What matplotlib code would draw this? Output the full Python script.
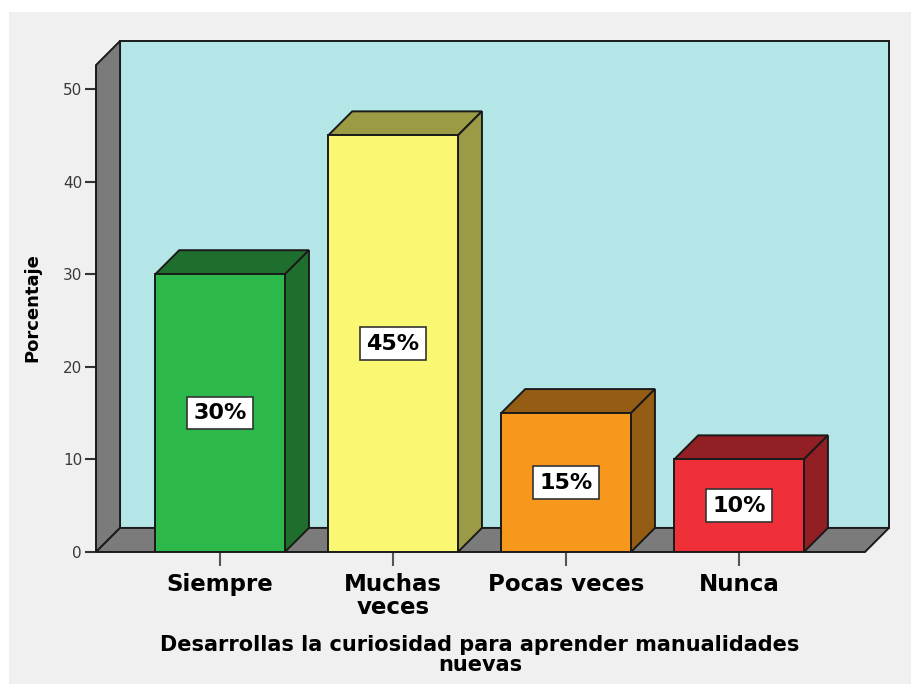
import matplotlib
matplotlib.use("Agg")
import matplotlib.pyplot as plt
from matplotlib.patches import Polygon, Rectangle

# ---- data ----
categories = ["Siempre", "Muchas\nveces", "Pocas veces", "Nunca"]
values = [30, 45, 15, 10]
value_labels = ["30%", "45%", "15%", "10%"]
y_ticks = [0, 10, 20, 30, 40, 50]
x_title = "Desarrollas la curiosidad para aprender manualidades\nnuevas"
y_title = "Porcentaje"

# ---- style ----
front_colors = ["#2DB84B", "#FAF773", "#F7981D", "#EF3038"]
dark_colors = ["#1E6E2D", "#9B9A45", "#955D13", "#921F24"]
wall_color = "#B4E6E7"
gray = "#7B7B7B"
edge = "#1A1A1A"
W, H = 912, 684
fig = plt.figure(figsize=(W / 100, H / 100), dpi=100)
fig.patch.set_facecolor("white")
fig.patches.append(Rectangle((9 / W, 0), 1 - 9 / W, 1 - 12 / H, transform=fig.transFigure,
                             facecolor="#F0F0F0", edgecolor="none", zorder=-10))

x0, x1 = -0.717, 3.728      # front floor extent
dx, dy = 0.139, 2.6          # depth offset
ytop = 52.6                  # front top of value axis
bw = 0.75                    # bar width

left_px, right_px, bot_px, top_px = 96, 889, 552, 41
ax = fig.add_axes([left_px / W, 1 - bot_px / H, (right_px - left_px) / W, (bot_px - top_px) / H])
ax.set_xlim(x0, x1 + dx)
ax.set_ylim(0, ytop + dy)
ax.patch.set_alpha(0)
for s in ax.spines.values():
    s.set_visible(False)

lw = 1.4
# back wall
ax.add_patch(Polygon([(x0 + dx, dy), (x1 + dx, dy), (x1 + dx, ytop + dy), (x0 + dx, ytop + dy)],
                     closed=True, facecolor=wall_color, edgecolor=edge, lw=lw, clip_on=False, zorder=1))
# left wall
ax.add_patch(Polygon([(x0, 0), (x0 + dx, dy), (x0 + dx, ytop + dy), (x0, ytop)],
                     closed=True, facecolor=gray, edgecolor=edge, lw=lw, clip_on=False, zorder=2))
# floor
ax.add_patch(Polygon([(x0, 0), (x1, 0), (x1 + dx, dy), (x0 + dx, dy)],
                     closed=True, facecolor=gray, edgecolor=edge, lw=lw, clip_on=False, zorder=2))

xs = list(range(len(values)))
bars = ax.bar(xs, values, width=bw, color=front_colors, edgecolor=edge, linewidth=lw, zorder=5)
for b, fc, dc, lab in zip(bars, front_colors, dark_colors, value_labels):
    l, r, h = b.get_x(), b.get_x() + b.get_width(), b.get_height()
    ax.add_patch(Polygon([(l, h), (r, h), (r + dx, h + dy), (l + dx, h + dy)], closed=True,
                         facecolor=dc, edgecolor=edge, lw=lw, zorder=4, clip_on=False))
    ax.add_patch(Polygon([(r, 0), (r + dx, dy), (r + dx, h + dy), (r, h)], closed=True,
                         facecolor=dc, edgecolor=edge, lw=lw, zorder=4, clip_on=False))
    ax.text((l + r) / 2, h / 2, lab, ha="center", va="center", fontsize=16, fontweight="bold",
            family="DejaVu Sans", color="black", zorder=7,
            bbox=dict(boxstyle="square,pad=0.28", facecolor="white", edgecolor="#333333", lw=1.2))

ax.set_yticks(y_ticks)
ax.set_yticklabels([str(t) for t in y_ticks])
ax.set_xticks(xs)
ax.set_xticklabels(categories, fontsize=16.5, fontweight="bold", linespacing=1.0)
ax.tick_params(axis="y", length=8, width=1.5, color="#333333", labelsize=11, labelcolor="#3A3A3A", pad=2)
ax.tick_params(axis="x", length=10, width=1.5, color="#555555", labelcolor="black", pad=5)

fig.text(480 / W, 1 - 655 / H, x_title, ha="center", va="center", fontsize=15, fontweight="bold",
         linespacing=0.95)
fig.text(32 / W, 1 - 308 / H, y_title, ha="center", va="center", rotation=90, fontsize=13,
         fontweight="bold")

fig.savefig("out.png", dpi=100)
